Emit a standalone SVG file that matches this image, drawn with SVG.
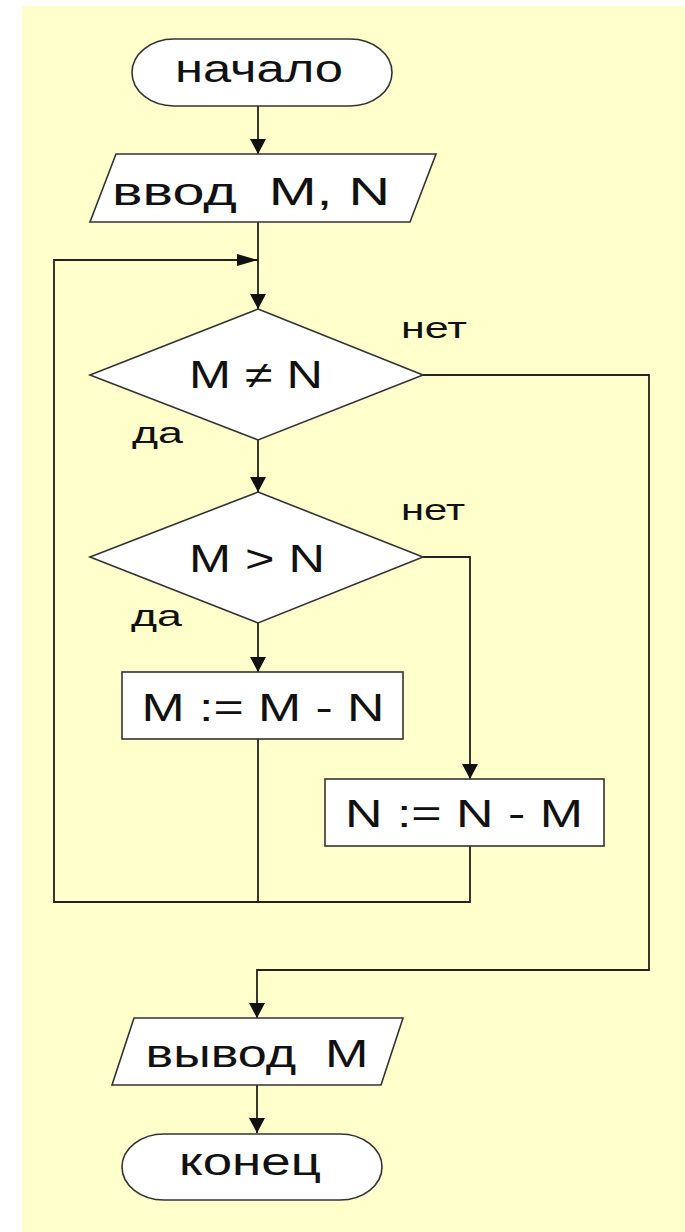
<svg xmlns="http://www.w3.org/2000/svg" width="685" height="1232" viewBox="0 0 685 1232">
<style>
.bg{fill:#FFFFCC}
.shape{fill:#FFFFFF;stroke:#333333;stroke-width:1.6}
.line{fill:none;stroke:#222222;stroke-width:1.8}
.t{font-family:"Liberation Sans",Arial,sans-serif;font-size:38px;fill:#111111;text-anchor:middle}
.lbl{font-family:"Liberation Sans",Arial,sans-serif;font-size:29px;fill:#111111}
</style>
<defs>
<marker id="arrV" markerUnits="userSpaceOnUse" markerWidth="16" markerHeight="16" refX="15" refY="8" orient="auto">
<path d="M0,0 L15,8 L0,16 z" fill="#111111"/>
</marker>
<marker id="arrH" markerUnits="userSpaceOnUse" markerWidth="21" markerHeight="12" refX="21" refY="6" orient="auto">
<path d="M0,0 L21,6 L0,12 z" fill="#111111"/>
</marker>
</defs>
<rect x="0" y="0" width="685" height="1232" fill="#FFFFFF"/>
<rect class="bg" x="22" y="6" width="663" height="1226"/>

<g id="connectors">
<path class="line" d="M258,106 V154" marker-end="url(#arrV)"/>
<path class="line" d="M258,222 V309" marker-end="url(#arrV)"/>
<path class="line" d="M423,375 H649 V970 H257 V1018" marker-end="url(#arrV)"/>
<path class="line" d="M258,440 V492" marker-end="url(#arrV)"/>
<path class="line" d="M423,557 H470 V779" marker-end="url(#arrV)"/>
<path class="line" d="M258,623 V672" marker-end="url(#arrV)"/>
<path class="line" d="M258,739 V902"/>
<path class="line" d="M470,846 V902 H54 V260 H258" marker-end="url(#arrH)"/>
<path class="line" d="M257,1085 V1133" marker-end="url(#arrV)"/>
</g>

<g id="start">
<rect class="shape" x="132" y="39" width="260" height="67" rx="42" ry="33.5"/>
<text class="t" x="259" y="82" textLength="168" lengthAdjust="spacingAndGlyphs">начало</text>
</g>

<g id="input">
<polygon class="shape" points="116,154 436,154 410,222 90,222"/>
<text class="t" x="251" y="205" textLength="278" lengthAdjust="spacingAndGlyphs" xml:space="preserve">ввод  M, N</text>
</g>

<g id="cond1">
<polygon class="shape" points="258,309 423,375 258,440 90,375"/>
<text class="t" x="256" y="388" textLength="134" lengthAdjust="spacingAndGlyphs">M ≠ N</text>
<text class="lbl" x="401" y="338" textLength="66" lengthAdjust="spacingAndGlyphs">нет</text>
<text class="lbl" x="132" y="443" textLength="51" lengthAdjust="spacingAndGlyphs">да</text>
</g>

<g id="cond2">
<polygon class="shape" points="258,492 423,557 258,623 90,557"/>
<text class="t" x="257" y="572" textLength="136" lengthAdjust="spacingAndGlyphs">M &gt; N</text>
<text class="lbl" x="401" y="520" textLength="64" lengthAdjust="spacingAndGlyphs">нет</text>
<text class="lbl" x="131" y="626" textLength="51" lengthAdjust="spacingAndGlyphs">да</text>
</g>

<g id="assignM">
<rect class="shape" x="122" y="672" width="281" height="67"/>
<text class="t" x="263" y="721" textLength="243" lengthAdjust="spacingAndGlyphs">M := M - N</text>
</g>

<g id="assignN">
<rect class="shape" x="325" y="779" width="279" height="67"/>
<text class="t" x="464" y="827" textLength="238" lengthAdjust="spacingAndGlyphs">N := N - M</text>
</g>

<g id="output">
<polygon class="shape" points="134,1018 403,1018 381,1085 112,1085"/>
<text class="t" x="257" y="1067" textLength="223" lengthAdjust="spacingAndGlyphs" xml:space="preserve">вывод  M</text>
</g>

<g id="end">
<rect class="shape" x="122" y="1134" width="260" height="66" rx="42" ry="33"/>
<text class="t" x="250" y="1175" textLength="142" lengthAdjust="spacingAndGlyphs">конец</text>
</g>
</svg>
